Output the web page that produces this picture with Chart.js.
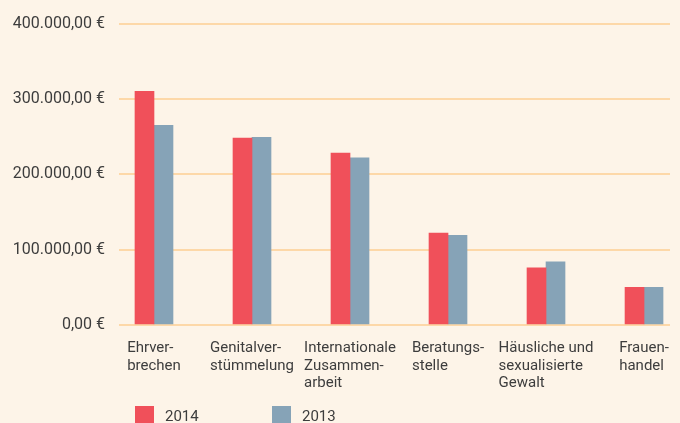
<html>
<script src="https://cdn.jsdelivr.net/npm/chart.js@4/dist/chart.umd.min.js"></script>
<style>
  body { margin: 0; background: #fdf4e8; }
  #wrap { width: 680px; height: 423px; }
</style>
<body>
<div id="wrap"><canvas id="spendChart" width="680" height="423"></canvas></div>
<script>
  // categories (each line of a label is its own string)
  var categories = [
    ["Ehrver-", "brechen"],
    ["Genitalver-", "stümmelung"],
    ["Internationale", "Zusammen-", "arbeit"],
    ["Beratungs-", "stelle"],
    ["Häusliche und", "sexualisierte", "Gewalt"],
    ["Frauen-", "handel"]
  ];
  var values2014 = [310000, 248000, 228000, 122000, 76000, 50000];
  var values2013 = [265000, 249000, 222000, 119000, 84000, 50000];
  var seriesNames = ["2014", "2013"];
  var yTicks = [0, 100000, 200000, 300000, 400000];

  var textCol = "#3d3d3d";
  var gridCol = "#fdd8a8";

  function euro(v) {
    return v.toLocaleString("de-DE", { minimumFractionDigits: 2, maximumFractionDigits: 2 }) + " €";
  }

  function toPoints(arr) {
    return arr.map(function(v, i) { return { x: i, y: v }; });
  }

  // draws multi-line category labels as a left aligned block under each bar pair
  var categoryLabels = {
    id: "categoryLabels",
    afterDraw: function(chart) {
      var ctx = chart.ctx;
      var xs = chart.scales.x;
      var area = chart.chartArea;
      ctx.save();
      ctx.font = "15px Roboto";
      ctx.fillStyle = textCol;
      ctx.textAlign = "left";
      ctx.textBaseline = "alphabetic";
      categories.forEach(function(lines, i) {
        var c = xs.getPixelForValue(i);
        var w = 0;
        lines.forEach(function(l) { w = Math.max(w, ctx.measureText(l).width); });
        var left = c - w / 2;
        lines.forEach(function(l, j) {
          ctx.fillText(l, left, area.bottom + 27 + j * 17.5);
        });
      });
      ctx.restore();
    }
  };

  // legend squares + year names at the bottom
  var bottomLegend = {
    id: "bottomLegend",
    afterDraw: function(chart) {
      var ctx = chart.ctx;
      var pos = [135, 272];
      ctx.save();
      ctx.font = "15px Roboto";
      ctx.textBaseline = "alphabetic";
      chart.data.datasets.forEach(function(ds, i) {
        ctx.fillStyle = ds.backgroundColor;
        ctx.fillRect(pos[i], 406, 19, 19);
        ctx.fillStyle = textCol;
        ctx.fillText(ds.label, pos[i] + 30, 420.5);
      });
      ctx.restore();
    }
  };

  var chart = new Chart(document.getElementById("spendChart"), {
    type: "bar",
    data: {
      datasets: [
        { label: seriesNames[0], data: toPoints(values2014), backgroundColor: "#f0505a" },
        { label: seriesNames[1], data: toPoints(values2013), backgroundColor: "#86a3b7" }
      ]
    },
    options: {
      responsive: false,
      animation: false,
      barThickness: 19,
      layout: { padding: { top: 23, right: 10, left: 0, bottom: 0 } },
      plugins: {
        legend: { display: false },
        tooltip: { enabled: false }
      },
      scales: {
        x: {
          type: "linear",
          offset: false,
          min: -0.357,
          max: 5.265,
          grid: { display: false },
          border: { display: false },
          ticks: { display: false },
          afterBuildTicks: function(scale) {
            scale.ticks = categories.map(function(c, i) { return { value: i }; });
          },
          afterFit: function(scale) { scale.height = 98; }
        },
        y: {
          min: 0,
          max: 400000,
          grid: { color: gridCol, lineWidth: 2, drawTicks: false },
          border: { display: false },
          ticks: {
            padding: 14,
            color: textCol,
            font: { family: "Roboto", size: 16 },
            callback: function(v) { return euro(v); }
          },
          afterBuildTicks: function(scale) {
            scale.ticks = yTicks.map(function(v) { return { value: v }; });
          },
          afterFit: function(scale) { scale.width = 119; }
        }
      }
    },
    plugins: [categoryLabels, bottomLegend]
  });
</script>
</body>
</html>
